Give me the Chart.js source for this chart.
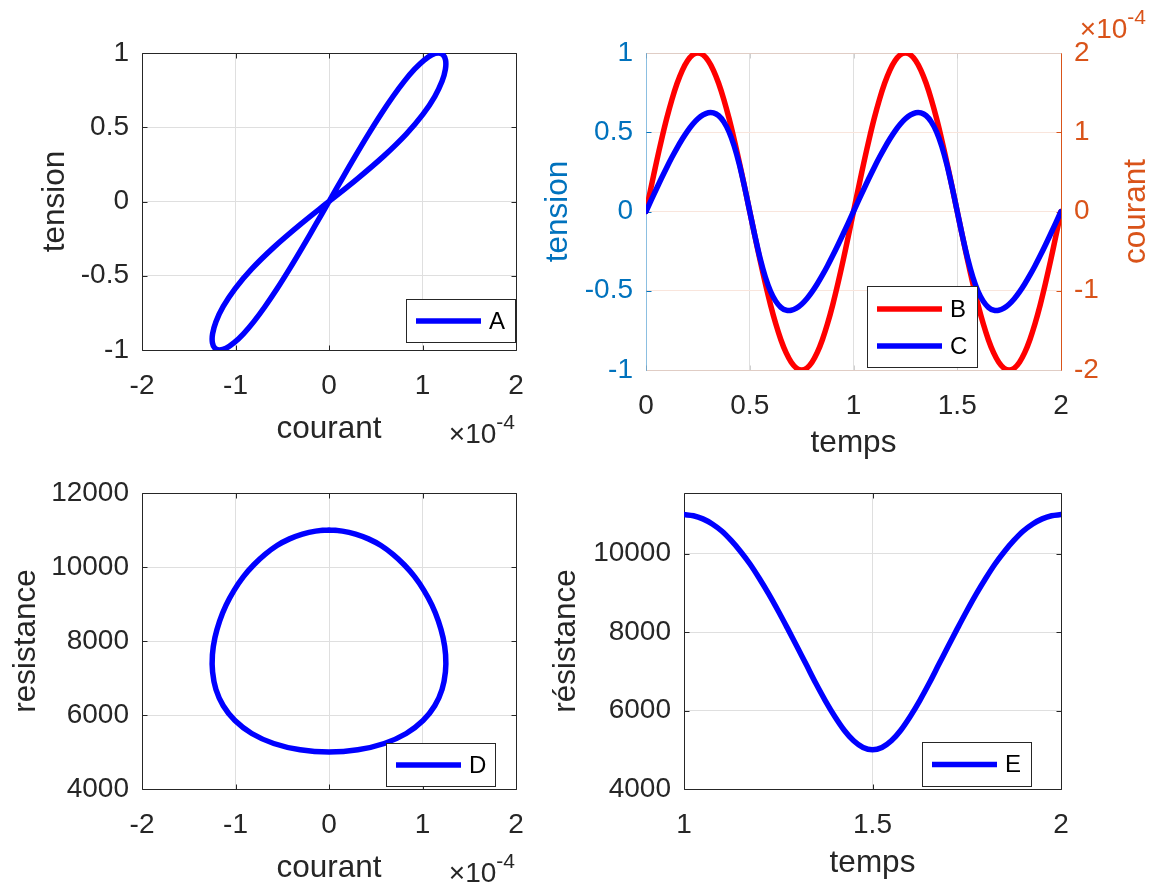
<!DOCTYPE html>
<html>
<head>
<meta charset="utf-8">
<title>Memristor – tension / courant / résistance</title>
<script src="https://cdn.jsdelivr.net/npm/chart.js@4.4.1/dist/chart.umd.min.js"></script>
<style>
  html, body { margin: 0; padding: 0; background: #fff; }
  #fig { position: relative; width: 1151px; height: 886px; overflow: hidden; background: #fff; }
  #fig canvas { position: absolute; left: 0; top: 0; }
</style>
</head>
<body>
<div id="fig">
  <canvas id="cA" width="1151" height="886"></canvas>
  <canvas id="cB" width="1151" height="886"></canvas>
  <canvas id="cD" width="1151" height="886"></canvas>
  <canvas id="cE" width="1151" height="886"></canvas>
</div>
<script>
/* ============================================================
   Memristor figure – 4 panels (A, B/C, D, E)
   ============================================================ */

// ---- Data (courant in units of 1e-4 A) ----
const temps = [
  0, 0.025, 0.05, 0.075, 0.1, 0.125, 0.15, 0.175, 0.2, 0.225,
  0.25, 0.275, 0.3, 0.325, 0.35, 0.375, 0.4, 0.425, 0.45, 0.475,
  0.5, 0.525, 0.55, 0.575, 0.6, 0.625, 0.65, 0.675, 0.7, 0.725,
  0.75, 0.775, 0.8, 0.825, 0.85, 0.875, 0.9, 0.925, 0.95, 0.975,
  1, 1.025, 1.05, 1.075, 1.1, 1.125, 1.15, 1.175, 1.2, 1.225,
  1.25, 1.275, 1.3, 1.325, 1.35, 1.375, 1.4, 1.425, 1.45, 1.475,
  1.5, 1.525, 1.55, 1.575, 1.6, 1.625, 1.65, 1.675, 1.7, 1.725,
  1.75, 1.775, 1.8, 1.825, 1.85, 1.875, 1.9, 1.925, 1.95, 1.975, 2
];
const tension = [
  0, 0.156, 0.309, 0.454, 0.588, 0.707, 0.809, 0.891, 0.951, 0.988,
  1, 0.988, 0.951, 0.891, 0.809, 0.707, 0.588, 0.454, 0.309, 0.156,
  0, -0.156, -0.309, -0.454, -0.588, -0.707, -0.809, -0.891, -0.951, -0.988,
  -1, -0.988, -0.951, -0.891, -0.809, -0.707, -0.588, -0.454, -0.309, -0.156,
  0, 0.156, 0.309, 0.454, 0.588, 0.707, 0.809, 0.891, 0.951, 0.988,
  1, 0.988, 0.951, 0.891, 0.809, 0.707, 0.588, 0.454, 0.309, 0.156,
  0, -0.156, -0.309, -0.454, -0.588, -0.707, -0.809, -0.891, -0.951, -0.988,
  -1, -0.988, -0.951, -0.891, -0.809, -0.707, -0.588, -0.454, -0.309, -0.156, 0
];
const courant = [
  0, 0.143, 0.284, 0.422, 0.556, 0.684, 0.804, 0.915, 1.015, 1.101,
  1.170, 1.220, 1.247, 1.245, 1.209, 1.131, 1.006, 0.826, 0.591, 0.309,
  0, -0.309, -0.591, -0.826, -1.006, -1.131, -1.209, -1.245, -1.247, -1.220,
  -1.170, -1.101, -1.015, -0.915, -0.804, -0.684, -0.556, -0.422, -0.284, -0.143,
  0, 0.143, 0.284, 0.422, 0.556, 0.684, 0.804, 0.915, 1.015, 1.101,
  1.170, 1.220, 1.247, 1.245, 1.209, 1.131, 1.006, 0.826, 0.591, 0.309,
  0, -0.309, -0.591, -0.826, -1.006, -1.131, -1.209, -1.245, -1.247, -1.220,
  -1.170, -1.101, -1.015, -0.915, -0.804, -0.684, -0.556, -0.422, -0.284, -0.143, 0
];
const resistance = [
  11000, 10970, 10890, 10760, 10580, 10340, 10060, 9740, 9370, 8970,
  8540, 8090, 7630, 7160, 6690, 6250, 5850, 5500, 5230, 5060,
  5000, 5060, 5230, 5500, 5850, 6250, 6690, 7160, 7630, 8090,
  8540, 8970, 9370, 9740, 10060, 10340, 10580, 10760, 10890, 10970,
  11000, 10970, 10890, 10760, 10580, 10340, 10060, 9740, 9370, 8970,
  8540, 8090, 7630, 7160, 6690, 6250, 5850, 5500, 5230, 5060,
  5000, 5060, 5230, 5500, 5850, 6250, 6690, 7160, 7630, 8090,
  8540, 8970, 9370, 9740, 10060, 10340, 10580, 10760, 10890, 10970, 11000
];

// ---- Tick values ----
const ticksCourant   = [-2, -1, 0, 1, 2];        // x 1e-4
const ticksTension   = [-1, -0.5, 0, 0.5, 1];
const ticksTemps     = [0, 0.5, 1, 1.5, 2];
const ticksTempsE    = [1, 1.5, 2];
const ticksResD      = [4000, 6000, 8000, 10000, 12000];
const ticksResE      = [4000, 6000, 8000, 10000];

// ---- Look ----
const W = 1151, H = 886;
const Y_W = 100, R_W = 70, X_H = 60;   // fixed axis box sizes
const FONT   = '"Liberation Sans", Arial, Helvetica, sans-serif';
const TXT    = "#262626";
const GRID   = "#dfdfdf";
const AX_L   = "#0072bd";
const AX_R   = "#d95319";
const TICK_L = 5;

Chart.defaults.font.family = FONT;

const pts = (xs, ys) => xs.map((x, i) => ({ x, y: ys[i] }));

function axis(position, min, max, values, o = {}) {
  const horiz = position === "bottom";
  const gridCol = o.grid === undefined ? GRID : o.grid;
  return {
    type: "linear", position, min, max,
    afterBuildTicks: s => { s.ticks = values.map(v => ({ value: v })); },
    afterFit: s => {
      if (horiz) s.height = X_H;
      else s.width = position === "left" ? Y_W : R_W;
      s.paddingLeft = s.paddingRight = s.paddingTop = s.paddingBottom = 0;
    },
    grid: {
      display: gridCol !== false,
      drawTicks: false,
      lineWidth: 1,
      color: c => (c.tick && (c.tick.value <= min || c.tick.value >= max)) ? "rgba(0,0,0,0)" : gridCol
    },
    border: { display: false },
    ticks: {
      color: o.color || TXT,
      font: { size: 28 },
      padding: horiz ? 19 : 13,
      autoSkip: false, maxRotation: 0,
      callback: v => String(v)
    }
  };
}

// ---- Plugin: box, inward ticks, legend, labels ----
function hline(ctx, x1, x2, y, col) {
  ctx.strokeStyle = col; ctx.beginPath();
  ctx.moveTo(x1, y); ctx.lineTo(x2, y); ctx.stroke();
}
function vline(ctx, x, y1, y2, col) {
  ctx.strokeStyle = col; ctx.beginPath();
  ctx.moveTo(x, y1); ctx.lineTo(x, y2); ctx.stroke();
}

const figPlugin = {
  id: "fig",
  beforeDatasetsDraw(chart, args, o) {
    const { ctx, chartArea: a } = chart;
    const L = Math.round(a.left) + 0.5, R = Math.round(a.right) + 0.5;
    const T = Math.round(a.top) + 0.5,  B = Math.round(a.bottom) + 0.5;
    ctx.save();
    ctx.lineWidth = 1;
    (o.ticks || []).forEach(t => {
      const s = chart.scales[t.scale];
      s.ticks.forEach(tk => {
        const p = Math.round(s.getPixelForValue(tk.value)) + 0.5;
        t.sides.forEach(side => {
          if (side === "bottom") vline(ctx, p, B, B - TICK_L, t.color);
          if (side === "top")    vline(ctx, p, T, T + TICK_L, t.color);
          if (side === "left")   hline(ctx, L, L + TICK_L, p, t.color);
          if (side === "right")  hline(ctx, R, R - TICK_L, p, t.color);
        });
      });
    });
    const e = o.edges;
    hline(ctx, L, R, T, e.top);
    hline(ctx, L, R, B, e.bottom);
    vline(ctx, L, T, B, e.left);
    vline(ctx, R, T, B, e.right);
    ctx.restore();
  },
  afterDraw(chart, args, o) {
    const ctx = chart.ctx;
    ctx.save();
    // legend box
    const lg = o.legend;
    if (lg) {
      const [x1, y1, x2, y2] = lg.box;
      ctx.fillStyle = "#fff";
      ctx.fillRect(x1, y1, x2 - x1, y2 - y1);
      ctx.lineWidth = 1;
      ctx.strokeStyle = TXT;
      ctx.strokeRect(x1 + 0.5, y1 + 0.5, x2 - x1 - 1, y2 - y1 - 1);
      lg.items.forEach((di, k) => {
        const ds = chart.data.datasets[di];
        const y = lg.rows[k];
        ctx.strokeStyle = ds.borderColor;
        ctx.lineWidth = 5.5;
        ctx.lineCap = "butt";
        ctx.beginPath(); ctx.moveTo(x1 + 10, y); ctx.lineTo(x1 + 75, y); ctx.stroke();
        ctx.fillStyle = "#000";
        ctx.font = "24px " + FONT;
        ctx.textAlign = "left"; ctx.textBaseline = "middle";
        ctx.fillText(ds.label, x1 + 83, y + 1);
      });
    }
    // axis titles and exponent labels
    (o.labels || []).forEach(l => {
      ctx.fillStyle = l.color || TXT;
      ctx.textBaseline = "alphabetic";
      if (l.sup) {
        const f1 = (l.size || 28) + "px " + FONT, f2 = (l.supSize || 21) + "px " + FONT;
        ctx.font = f1; const w1 = ctx.measureText(l.text).width;
        ctx.font = f2; const w2 = ctx.measureText(l.sup).width;
        const x0 = l.xr - w1 - w2;
        ctx.textAlign = "left";
        ctx.font = f1; ctx.fillText(l.text, x0, l.y);
        ctx.font = f2; ctx.fillText(l.sup, x0 + w1, l.y - 14);
        return;
      }
      ctx.font = (l.size || 31.5) + "px " + FONT;
      ctx.textAlign = "center";
      if (l.rot) {
        ctx.save();
        ctx.translate(l.x, l.y);
        ctx.rotate(-Math.PI / 2);
        ctx.fillText(l.text, 0, 0);
        ctx.restore();
      } else {
        ctx.fillText(l.text, l.x, l.y);
      }
    });
    ctx.restore();
  }
};

const darkEdges = { top: TXT, bottom: TXT, left: TXT, right: TXT };
const darkTicks = [
  { scale: "x", sides: ["bottom", "top"], color: TXT },
  { scale: "y", sides: ["left", "right"], color: TXT }
];

function makeChart(id, area, datasets, scales, fig) {
  const hasRight = !!scales.y1;
  return new Chart(document.getElementById(id), {
    type: "scatter",
    data: {
      datasets: datasets.map(d => Object.assign({
        showLine: true, fill: false, borderWidth: 5.5, borderColor: "#0000ff",
        pointRadius: 0, pointHoverRadius: 0, tension: 0.35,
        borderCapStyle: "round", borderJoinStyle: "round"
      }, d))
    },
    options: {
      responsive: false,
      animation: false,
      events: [],
      layout: {
        padding: {
          left: area.l - Y_W,
          top: area.t,
          right: W - area.r - (hasRight ? R_W : 0),
          bottom: H - area.b - X_H
        }
      },
      scales,
      plugins: { legend: { display: false }, tooltip: { enabled: false }, fig }
    },
    plugins: [figPlugin]
  });
}

// ---- Panel A : tension vs courant ----
makeChart("cA", { l: 142, t: 53, r: 516, b: 350 },
  [{ label: "A", data: pts(courant, tension) }],
  {
    x: axis("bottom", -2, 2, ticksCourant),
    y: axis("left", -1, 1, ticksTension)
  },
  {
    edges: darkEdges, ticks: darkTicks,
    legend: { box: [406, 299, 516, 343], items: [0], rows: [321] },
    labels: [
      { text: "tension", x: 64, y: 201.5, rot: true },
      { text: "courant", x: 329, y: 438 },
      { text: "\u00d710", sup: "-4", xr: 515, y: 443 }
    ]
  });

// ---- Panel B/C : tension & courant vs temps ----
makeChart("cB", { l: 646, t: 53, r: 1061, b: 370 },
  [
    { label: "B", data: pts(temps, tension), borderColor: "#ff0000", yAxisID: "y", order: 1 },
    { label: "C", data: pts(temps, courant), borderColor: "#0000ff", yAxisID: "y1", order: 0 }
  ],
  {
    x: axis("bottom", 0, 2, ticksTemps),
    y: axis("left", -1, 1, ticksTension, { color: AX_L, grid: false }),
    y1: axis("right", -2, 2, ticksCourant, { color: AX_R, grid: "#f9e5dc" })
  },
  {
    edges: { top: "#e0cdc5", bottom: "#e0cdc5", left: "rgba(0,114,189,0.45)", right: AX_R },
    ticks: [
      { scale: "x", sides: ["bottom", "top"], color: "#cfcfcf" },
      { scale: "y", sides: ["left"], color: AX_L },
      { scale: "y1", sides: ["right"], color: AX_R }
    ],
    legend: { box: [867, 286, 978, 368], items: [0, 1], rows: [309, 346] },
    labels: [
      { text: "tension", x: 567, y: 211.5, rot: true, color: AX_L },
      { text: "courant", x: 1145, y: 211.5, rot: true, color: AX_R },
      { text: "temps", x: 853.5, y: 452 },
      { text: "\u00d710", sup: "-4", xr: 1146, y: 38, color: AX_R }
    ]
  });

// ---- Panel D : resistance vs courant ----
makeChart("cD", { l: 142, t: 493, r: 516, b: 789 },
  [{ label: "D", data: pts(courant, resistance) }],
  {
    x: axis("bottom", -2, 2, ticksCourant),
    y: axis("left", 4000, 12000, ticksResD)
  },
  {
    edges: darkEdges, ticks: darkTicks,
    legend: { box: [386, 743, 496, 787], items: [0], rows: [765] },
    labels: [
      { text: "resistance", x: 34.5, y: 641, rot: true },
      { text: "courant", x: 329, y: 877 },
      { text: "\u00d710", sup: "-4", xr: 515, y: 882 }
    ]
  });

// ---- Panel E : résistance vs temps (second period) ----
const iE = temps.indexOf(1);
makeChart("cE", { l: 684, t: 493, r: 1061, b: 789 },
  [{ label: "E", data: pts(temps.slice(iE), resistance.slice(iE)) }],
  {
    x: axis("bottom", 1, 2, ticksTempsE),
    y: axis("left", 4000, 11550, ticksResE)
  },
  {
    edges: darkEdges, ticks: darkTicks,
    legend: { box: [922, 742, 1032, 787], items: [0], rows: [764.5] },
    labels: [
      { text: "r\u00e9sistance", x: 575, y: 641, rot: true },
      { text: "temps", x: 872.5, y: 872 }
    ]
  });
</script>
</body>
</html>
